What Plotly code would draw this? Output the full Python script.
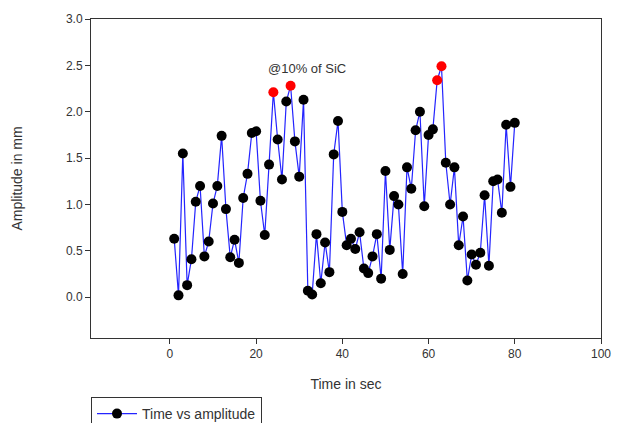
import plotly.graph_objects as go

time_s = list(range(1, 81))
amplitude = [
    0.63, 0.02, 1.55, 0.13, 0.41, 1.03, 1.20, 0.44, 0.60, 1.01,
    1.20, 1.74, 0.95, 0.43, 0.62, 0.37, 1.07, 1.33, 1.77, 1.79,
    1.04, 0.67, 1.43, 2.21, 1.70, 1.27, 2.11, 2.28, 1.68, 1.30,
    2.13, 0.07, 0.03, 0.68, 0.15, 0.59, 0.27, 1.54, 1.90, 0.92,
    0.56, 0.63, 0.52, 0.70, 0.31, 0.26, 0.44, 0.68, 0.20, 1.36,
    0.51, 1.09, 1.00, 0.25, 1.40, 1.17, 1.80, 2.00, 0.98, 1.75,
    1.81, 2.34, 2.49, 1.45, 1.00, 1.40, 0.56, 0.87, 0.18, 0.46,
    0.35, 0.48, 1.10, 0.34, 1.25, 1.27, 0.91, 1.86, 1.19, 1.88,
]
highlight_times = [24, 28, 62, 63]
series_name = "Time vs amplitude"
annotation_text = "@10% of SiC"
x_ticks = [0, 20, 40, 60, 80, 100]
y_ticks = [0.0, 0.5, 1.0, 1.5, 2.0, 2.5, 3.0]

colors = ["red" if t in highlight_times else "black" for t in time_s]

fig = go.Figure()
fig.add_trace(go.Scatter(
    x=time_s, y=amplitude, mode="lines+markers", name=series_name,
    line=dict(color="#2424ff", width=1.2),
    marker=dict(color=colors, size=10, line=dict(width=0)),
    showlegend=True,
))

font_fam = "Liberation Sans, Arial, sans-serif"
fig.add_annotation(x=31.8, y=2.47, text=annotation_text, showarrow=False,
                   font=dict(family=font_fam, size=13, color="#333333"))

axis_common = dict(showgrid=False, zeroline=False, showline=True, linecolor="#333333",
                   linewidth=1, mirror=True, ticks="outside", ticklen=5, automargin=False,
                   tickcolor="#333333", tickfont=dict(family=font_fam, size=12, color="#333333"))

fig.update_layout(
    width=617, height=423,
    margin=dict(l=91, r=16, t=19, b=85, autoexpand=False),
    paper_bgcolor="white", plot_bgcolor="white",
    font=dict(family=font_fam, color="#333333"),
    xaxis=dict(range=[-18.3, 100], tickvals=x_ticks,
               title=dict(text="Time in sec", font=dict(size=14, family=font_fam), standoff=18),
               **axis_common),
    yaxis=dict(range=[-0.44, 3.0], tickvals=y_ticks, tickformat=".1f",
               title=dict(text="Amplitude in mm", font=dict(size=14, family=font_fam), standoff=40),
               **axis_common),
    legend=dict(x=0, y=-0.185, xanchor="left", yanchor="top",
                bordercolor="#333333", borderwidth=1, bgcolor="white",
                itemwidth=40,
                font=dict(family=font_fam, size=14, color="#333333")),
    showlegend=True,
)

fig.write_html("out.html",
               config={"displayModeBar": False},
               post_script="document.body.style.margin='0';document.body.style.overflow='hidden';")
